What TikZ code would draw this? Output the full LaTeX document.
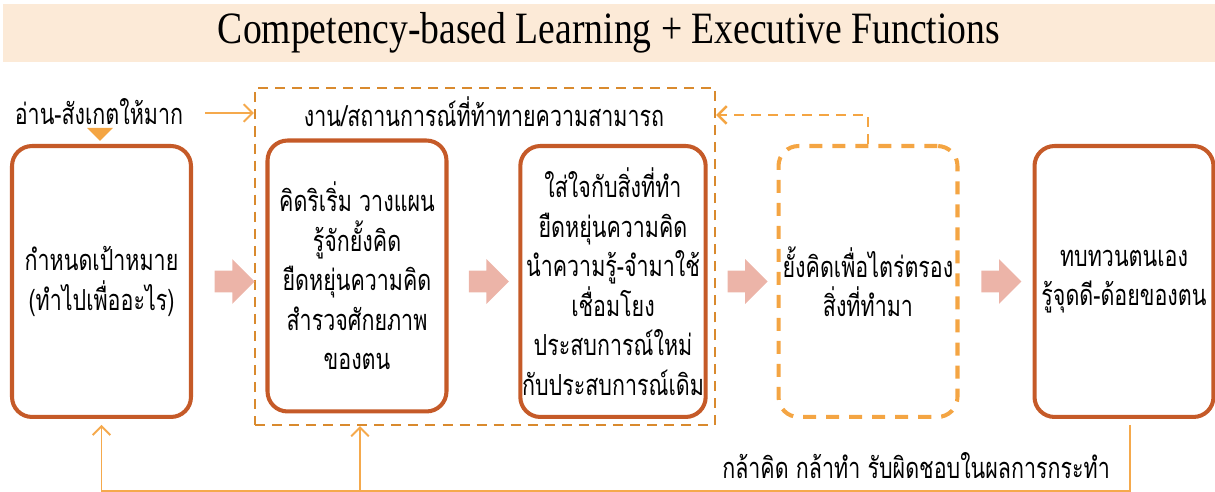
\documentclass[tikz,border=0pt]{standalone}
\usepackage{fontspec}
\setmainfont{Liberation Serif}[FakeStretch=0.84]
\newfontfamily\thaifont[Script=Thai, FakeStretch=0.74]{Loma}
\usetikzlibrary{shapes.arrows,arrows.meta,calc}
\definecolor{boxred}{HTML}{C55A28}
\definecolor{grpline}{HTML}{D98A2E}
\definecolor{lightorg}{HTML}{F4A543}
\definecolor{feedorg}{HTML}{F5A94C}
\definecolor{blockpink}{HTML}{ECB4A8}
\definecolor{titlefill}{HTML}{FCEAD7}

\begin{document}
\begin{tikzpicture}[x=0.02cm, y=-0.02cm,
    thai/.style={font=\thaifont\fontsize{16.5}{22.5}\selectfont, align=center, inner sep=1pt},
    box/.style={thai, draw=boxred, line width=2.3pt, rounded corners=0.4cm, minimum width=3.58cm, minimum height=5.42cm},
    blockarrow/.style={single arrow, fill=blockpink, draw=none, inner xsep=0pt, inner ysep=0.21cm, minimum height=0.8cm, single arrow head extend=0.23cm},
    feed/.style={draw=feedorg, line width=1.1pt, -{Straight Barb[length=5pt, width=10pt]}}]
      \useasboundingbox (0,0) rectangle (1215,492);

      % title band
      \node[fill=titlefill, minimum width=24.24cm, minimum height=1.16cm, inner sep=0pt, font=\fontsize{25.5}{30}\selectfont] (title) at (609,33) {Competency-based Learning + Executive Functions};

      % challenge frame
      \node[draw=grpline, line width=1.4pt, dash pattern=on 5.7pt off 4pt, minimum width=9.2cm, minimum height=6.74cm, inner sep=0pt] (frame) at (485,256.5) {};
      \node[thai] (task) at (484,112) {งาน/สถานการณ์ที่ท้าทายความสามารถ};

      \node[box] (goal) at (101.5,281.5) {กำหนดเป้าหมาย\\(ทำไปเพื่ออะไร)};
      \node[box] (plan) at (357,276) {คิดริเริ่ม วางแผน\\รู้จักยั้งคิด\\ยืดหยุ่นความคิด\\สำรวจศักยภาพ\\ของตน};
      \node[box] (focus) at (613,281.5) {ใส่ใจกับสิ่งที่ทำ\\ยืดหยุ่นความคิด\\นำความรู้-จำมาใช้\\เชื่อมโยง\\ประสบการณ์ใหม่\\กับประสบการณ์เดิม};
      \node[box, draw=lightorg, dash pattern=on 7.4pt off 5.7pt] (reflect) at (868,281.5) {ยั้งคิดเพื่อไตร่ตรอง\\สิ่งที่ทำมา};
      \node[box] (review) at (1124,281.5) {ทบทวนตนเอง\\รู้จุดดี-ด้อยของตน};

      % block arrows between the steps
      \node[blockarrow] (a1) at ($(goal.east)!0.5!(plan.west |- goal.east)$) {};
      \node[blockarrow] (a2) at ($(plan.east |- goal.east)!0.5!(focus.west)$) {};
      \node[blockarrow] (a3) at ($(focus.east)!0.5!(reflect.west)$) {};
      \node[blockarrow] (a4) at ($(reflect.east)!0.5!(review.west)$) {};

      % reading input
      \node[thai] (read) at (99,112) {อ่าน-สังเกตให้มาก};
      \fill[lightorg] (87,128) -- (113,128) -- (100,141) -- cycle;
      \draw[feed] ($(read.east)+(20,1)$) -- ($(frame.west |- read.east)+(0,1)$);

      % feedback from reflection
      \coordinate (back) at (frame.east |- 0,115);
      \draw[draw=lightorg, line width=1.4pt, dash pattern=on 5.7pt off 4pt, -{Straight Barb[length=5pt, width=10pt]}] (reflect.north) |- (back);

      % feedback from review
      \coordinate (low) at (1130,491);
      \coordinate (lowmid) at (360,491);
      \draw[feed] (1130,425) -- (low) -| ($(goal.south)+(0,6)$);
      \draw[feed] (lowmid) -- (lowmid |- frame.south);
      \node[thai, anchor=east] (dare) at (1112,466) {กล้าคิด กล้าทำ รับผิดชอบในผลการกระทำ};
    \end{tikzpicture}
\end{document}
